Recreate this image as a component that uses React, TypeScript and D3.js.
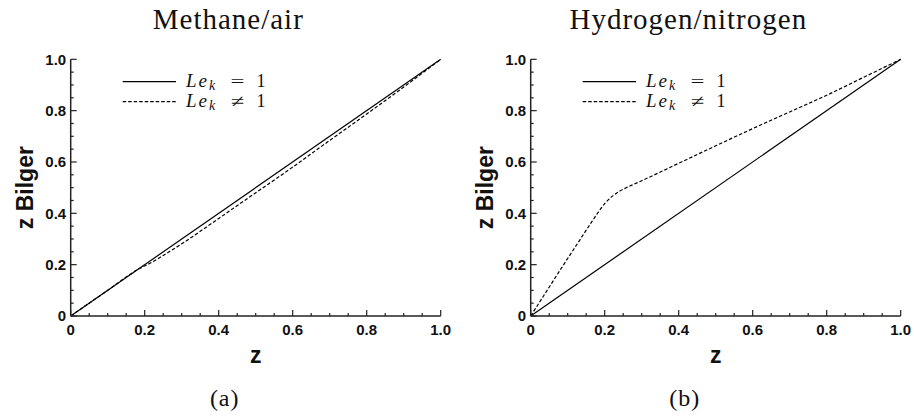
import React from "react";
import * as d3 from "d3";

// ---- data ----
const unityZ = [0, 1];
const unityBilger = [0, 1];

const methaneZ = [0, 0.1, 0.18, 0.22, 0.25, 0.3, 0.4, 0.5, 0.6, 0.7, 0.8, 0.9, 1.0];
const methaneBilger = [0, 0.1, 0.18, 0.21, 0.236, 0.281, 0.38, 0.48, 0.58, 0.684, 0.787, 0.892, 1.0];

const hydrogenZ = [0, 0.04, 0.08, 0.12, 0.16, 0.18, 0.2, 0.22, 0.24, 0.26, 0.28, 0.3, 0.4, 0.5, 0.6, 0.7, 0.8, 0.9, 1.0];
const hydrogenBilger = [0, 0.09, 0.18, 0.268, 0.356, 0.399, 0.438, 0.466, 0.486, 0.501, 0.514, 0.527, 0.595, 0.663, 0.73, 0.795, 0.86, 0.93, 1.0];

const majorTicks = [0, 0.2, 0.4, 0.6, 0.8, 1.0];
const minorTicks = d3.range(0, 21).map((i) => i * 0.05);
const tickLabels = ["0", "0.2", "0.4", "0.6", "0.8", "1.0"];

const titles = ["Methane/air", "Hydrogen/nitrogen"];
const captions = ["(a)", "(b)"];
const legendOps = ["=", "\u2260"];
const legendDash = [null, "3.5,2"];
const xLabel = "z";
const yLabel = "z Bilger";

const panels = [
  { title: titles[0], caption: captions[0], z: methaneZ, b: methaneBilger, left: 70.7 },
  { title: titles[1], caption: captions[1], z: hydrogenZ, b: hydrogenBilger, left: 530.7 },
];

const W = 914;
const H = 416;
const plotW = 370;
const top = 59.3;
const bottom = 316;

const sans = "'Liberation Sans', Arial, Helvetica, sans-serif";
const serif = "'Liberation Serif', 'Times New Roman', serif";

function Panel({ p }: { p: (typeof panels)[number] }) {
  const x = d3.scaleLinear().domain([0, 1]).range([p.left, p.left + plotW]);
  const y = d3.scaleLinear().domain([0, 1]).range([bottom, top]);
  const solidPath = d3
    .line<number>()
    .x((_, i) => x(unityZ[i]))
    .y((_, i) => y(unityBilger[i]))(unityZ);
  const dashPath = d3
    .line<number>()
    .x((_, i) => x(p.z[i]))
    .y((_, i) => y(p.b[i]))
    .curve(d3.curveMonotoneX)(p.z);
  const cx = p.left + plotW / 2;
  const lx0 = p.left + 52;
  const lx1 = p.left + 105.3;
  const tx = p.left + 115.3;
  return (
    <g>
      {/* title */}
      <text
        x={cx - 27.4}
        y={29}
        textAnchor="middle"
        fontFamily={serif}
        fontSize={29}
        letterSpacing={1}
        fill="#111"
      >
        {p.title}
      </text>
      {/* curves */}
      <path d={solidPath || ""} fill="none" stroke="#000" strokeWidth={1.2} />
      <path d={dashPath || ""} fill="none" stroke="#000" strokeWidth={1.2} strokeDasharray="3.5,2" />
      {/* axes */}
      <line x1={p.left} x2={p.left} y1={top} y2={bottom} stroke="#222" strokeWidth={1.5} />
      <line x1={p.left} x2={p.left + plotW} y1={bottom} y2={bottom} stroke="#222" strokeWidth={1.5} />
      {minorTicks.map((t, i) => {
        const major = i % 4 === 0;
        const len = major ? 6 : 3;
        return (
          <g key={"t" + i}>
            <line x1={x(t)} x2={x(t)} y1={bottom} y2={bottom - len} stroke="#222" strokeWidth={1.2} />
            <line x1={p.left} x2={p.left + len} y1={y(t)} y2={y(t)} stroke="#222" strokeWidth={1.2} />
          </g>
        );
      })}
      {majorTicks.map((t, i) => (
        <g key={"l" + i} fontFamily={sans} fontWeight="bold" fontSize={15} fill="#111">
          <text x={x(t)} y={335} textAnchor="middle">
            {tickLabels[i]}
          </text>
          <text x={p.left - 4.5} y={y(t)} dy="0.36em" textAnchor="end">
            {tickLabels[i]}
          </text>
        </g>
      ))}
      {/* axis labels */}
      <text x={cx} y={363} textAnchor="middle" fontFamily={sans} fontWeight="bold" fontSize={23} fill="#111">
        {xLabel}
      </text>
      <text
        transform={`translate(${p.left - 37.5},${(top + bottom) / 2}) rotate(-90)`}
        textAnchor="middle"
        fontFamily={sans}
        fontWeight="bold"
        fontSize={23}
        fill="#111"
      >
        {yLabel}
      </text>
      {/* legend */}
      {legendOps.map((op, i) => {
        const ly = 81.7 + i * 20;
        const by = 86.7 + i * 20;
        return (
          <g key={"lg" + i}>
            <line
              x1={lx0}
              x2={lx1}
              y1={ly}
              y2={ly}
              stroke="#000"
              strokeWidth={1.2}
              strokeDasharray={legendDash[i] || undefined}
            />
            <text y={by} fontFamily={serif} fontSize={19} fill="#111">
              <tspan x={tx} fontStyle="italic" letterSpacing={2}>
                Le
              </tspan>
              <tspan fontStyle="italic" fontSize={14} dy={3.5}>
                k
              </tspan>
            </text>
            <text
              transform={`translate(${tx + 44.5},${by}) scale(1.45,1)`}
              fontFamily={serif}
              fontSize={17}
              fill="#111"
            >
              {op}
            </text>
            <text x={tx + 70.5} y={by} fontFamily={serif} fontSize={18} fill="#111">
              1
            </text>
          </g>
        );
      })}
      {/* caption */}
      <text
        x={cx - 31}
        y={406}
        textAnchor="middle"
        fontFamily={serif}
        fontSize={24}
        letterSpacing={1}
        fill="#111"
      >
        {p.caption}
      </text>
    </g>
  );
}

export default function App() {
  return (
    <svg
      width={W}
      height={H}
      viewBox={`0 0 ${W} ${H}`}
      style={{ position: "absolute", left: 0, top: 0, background: "#fff" }}
    >
      <rect width={W} height={H} fill="#fff" />
      {panels.map((p, i) => (
        <Panel key={i} p={p} />
      ))}
    </svg>
  );
}
